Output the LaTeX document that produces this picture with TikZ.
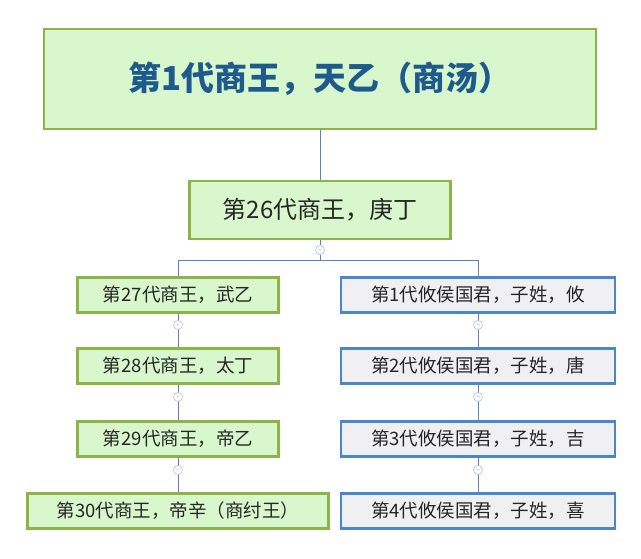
\documentclass[tikz,border=0pt]{standalone}
\usepackage{fontspec}
\newfontfamily\cjk{Noto Sans CJK SC}
\begin{document}
\begin{tikzpicture}[x=1pt,y=-1pt,
 gbox/.style={draw={rgb,255:red,140;green,180;blue,70},line width=2.8pt,fill={rgb,255:red,216;green,247;blue,204},inner sep=0pt,font=\cjk,text=black!85},
 bbox/.style={draw={rgb,255:red,74;green,134;blue,200},line width=2.8pt,fill={rgb,255:red,240;green,240;blue,242},inner sep=0pt,font=\cjk,text=black!85},
 small/.style={font=\cjk\fontsize{18.5}{20}\selectfont},
 ln/.style={draw={rgb,255:red,90;green,130;blue,190},line width=0.8pt},
 col/.style={circle,draw={rgb,255:red,150;green,170;blue,210},fill=white,inner sep=0pt,minimum size=9pt,font=\tiny,text=gray}]
\useasboundingbox (0,0) rectangle (641,558);
\node[gbox,minimum width=552pt,minimum height=100pt,font=\cjk\bfseries\fontsize{33}{35}\selectfont,text={rgb,255:red,30;green,90;blue,140}] (k1) at (320,79) {第1代商王，天乙（商汤）};
\node[gbox,minimum width=261pt,minimum height=58pt,font=\cjk\fontsize{24}{26}\selectfont] (k26) at (320,210) {第26代商王，庚丁};
\node[col] (c0) at (320,250) {$-$};
\coordinate (hl) at (178,260); \coordinate (hr) at (478,260);
\node[gbox,small,minimum width=201pt,minimum height=35pt] (l1) at (178,295) {第27代商王，武乙};
\node[gbox,small,minimum width=201pt,minimum height=35pt] (l2) at (178,366) {第28代商王，太丁};
\node[gbox,small,minimum width=201pt,minimum height=35pt] (l3) at (178,439) {第29代商王，帝乙};
\node[gbox,small,minimum width=301pt,minimum height=35pt] (l4) at (178,511) {第30代商王，帝辛（商纣王）};
\node[bbox,small,minimum width=274pt,minimum height=35pt] (r1) at (478,295) {第1代攸侯国君，子姓，攸};
\node[bbox,small,minimum width=274pt,minimum height=35pt] (r2) at (478,366) {第2代攸侯国君，子姓，唐};
\node[bbox,small,minimum width=274pt,minimum height=35pt] (r3) at (478,439) {第3代攸侯国君，子姓，吉};
\node[bbox,small,minimum width=274pt,minimum height=35pt] (r4) at (478,511) {第4代攸侯国君，子姓，喜};
\draw[ln] (k1.south) -- (k26.north);
\draw[ln] (k26.south) -- (c0.north);
\draw[ln] (c0.south) -- (320,260) -- (hl) -- (l1.north);
\draw[ln] (320,260) -- (hr) -- (r1.north);
\foreach \a/\b/\y in {l1/l2/325,l2/l3/397,l3/l4/470}{
 \draw[ln] (\a.south) -- (\b.north);
 \node[col] at (178,\y) {$-$};}
\foreach \a/\b/\y in {r1/r2/325,r2/r3/397,r3/r4/470}{
 \draw[ln] (\a.south) -- (\b.north);
 \node[col] at (478,\y) {$-$};}
\end{tikzpicture}
\end{document}
